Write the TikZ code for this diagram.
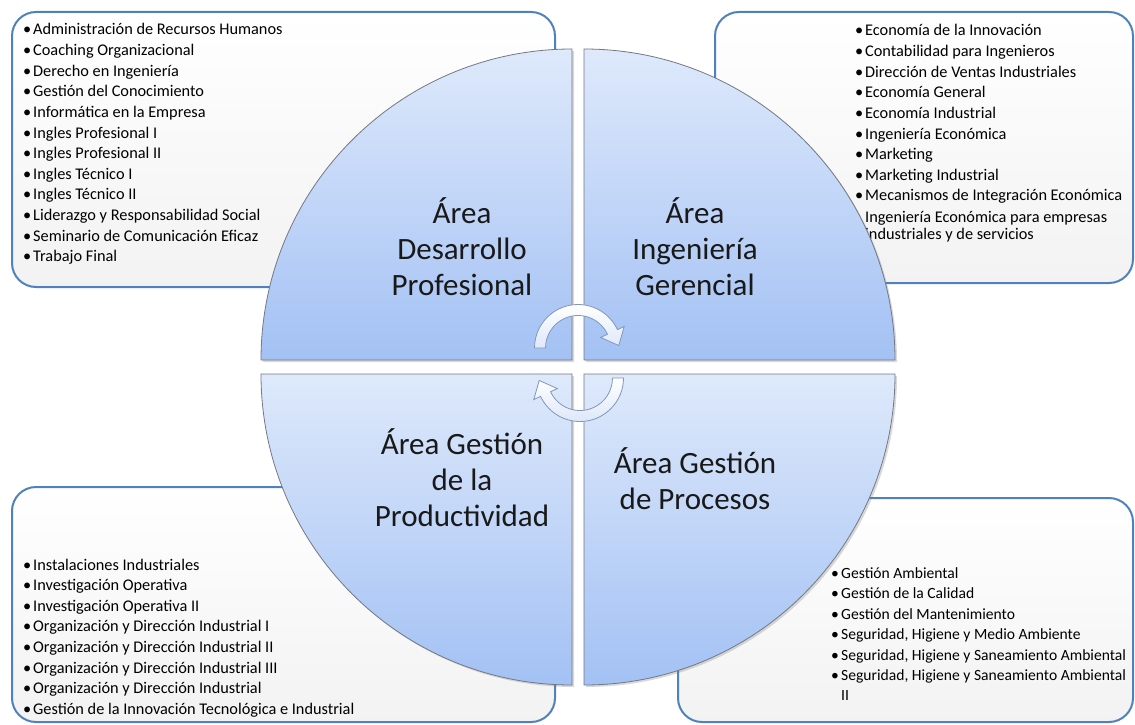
\documentclass[tikz,border=0pt]{standalone}
\usepackage{fontspec}
\setmainfont{Carlito}
\usetikzlibrary{shadows,calc}
\definecolor{boxline}{RGB}{79,129,189}
\definecolor{qtop}{RGB}{222,233,251}
\definecolor{qbot}{RGB}{163,193,244}
\definecolor{qline}{RGB}{115,120,130}
\definecolor{arrfill}{RGB}{222,232,250}
\definecolor{arrline}{RGB}{130,150,185}
\begin{document}
\begin{tikzpicture}[x=1pt,y=-1pt,
  listbox/.style={draw=boxline, line width=2pt, rounded corners=24pt, top color=white, bottom color=black!5},
  quad/.style={draw=qline, line width=0.8pt, top color=qtop, bottom color=qbot,
    drop shadow={shadow xshift=2pt, shadow yshift=-2pt, opacity=0.3}},
  item/.style={anchor=base west, inner sep=0pt, font=\fontsize{16.3}{19}\selectfont},
  itemsm/.style={item, font=\fontsize{15.6}{19}\selectfont},
  area/.style={align=center, inner sep=0pt, font=\fontsize{31}{36}\selectfont, text=black!90},
  cyc/.style={draw=arrline, line width=0.8pt, top color=white, bottom color=arrfill}
]
\useasboundingbox (0,0) rectangle (1135,725);
\clip (0,0) rectangle (1135,725);
% list boxes
\draw[listbox] (12,12) rectangle (555,287);
\draw[listbox] (715,12) rectangle (1133,283);
\draw[listbox] (12,487) rectangle (555,722);
\draw[listbox] (678,498) rectangle (1133,722);
% top-left list
\foreach \t [count=\i from 0] in {Administración de Recursos Humanos, Coaching Organizacional, Derecho en Ingeniería, Gestión del Conocimiento, Informática en la Empresa, Ingles Profesional I, Ingles Profesional II, Ingles Técnico I, Ingles Técnico II, Liderazgo y Responsabilidad Social, Seminario de Comunicación Eficaz, Trabajo Final}
  \node[item, name=tl\i] at (23,{35+20.6*\i}) {\makebox[10pt][l]{•}\t};
% top-right list
\foreach \t [count=\i from 0] in {Economía de la Innovación, Contabilidad para Ingenieros, Dirección de Ventas Industriales, Economía General, Economía Industrial, Ingeniería Económica, Marketing, Marketing Industrial, Mecanismos de Integración Económica}
  \node[item, name=tr\i] at (855,{36+20.6*\i}) {\makebox[10pt][l]{•}\t};
\node[item, name=tr9] at (865,222) {Ingeniería Económica para empresas};
\node[item, name=tr10] at (865,239) {industriales y de servicios};
% bottom-left list
\foreach \t [count=\i from 0] in {Instalaciones Industriales, Investigación Operativa, Investigación Operativa II, Organización y Dirección Industrial I, Organización y Dirección Industrial II, Organización y Dirección Industrial III, Organización y Dirección Industrial, Gestión de la Innovación Tecnológica e Industrial}
  \node[item, name=bl\i] at (23,{570+20.6*\i}) {\makebox[10pt][l]{•}\t};
% bottom-right list
\foreach \t [count=\i from 0] in {Gestión Ambiental, Gestión de la Calidad, Gestión del Mantenimiento, {Seguridad, Higiene y Medio Ambiente}, {Seguridad, Higiene y Saneamiento Ambiental}, {Seguridad, Higiene y Saneamiento Ambiental}}
  \node[itemsm, name=br\i] at (831,{578+20.5*\i}) {\makebox[10pt][l]{•}\t};
\node[itemsm, name=br6] at (841,700) {II};
% quadrants
\path[quad] (572,360) -- (261,360) arc[start angle=180, end angle=270, radius=311] -- cycle;
\path[quad] (584,360) -- (584,49) arc[start angle=270, end angle=360, radius=311] -- cycle;
\path[quad] (584,374) -- (895,374) arc[start angle=0, end angle=90, radius=311] -- cycle;
\path[quad] (572,374) -- (572,685) arc[start angle=90, end angle=180, radius=311] -- cycle;
% labels
\node[area] (dp) at (462,247) {Área\\Desarrollo\\Profesional};
\node[area] (ig) at (695,247) {Área\\Ingeniería\\Gerencial};
\node[area] (gp) at (462,478) {Área Gestión\\de la\\Productividad};
\node[area] (gr) at (695,479) {Área Gestión\\de Procesos};
% cycle arrows
\coordinate (ctop) at (578,348);
\coordinate (cbot) at (580,378);
\path[cyc] ($(ctop)+(180:43.5)$) arc[start angle=180, end angle=335, radius=43.5]
  -- ($(ctop)+(335:51)$) -- ($(ctop)+(335:38)+(65:15)$) -- ($(ctop)+(335:25)$)
  -- ($(ctop)+(335:32.5)$) arc[start angle=335, end angle=180, radius=32.5] -- cycle;
\path[cyc] ($(cbot)+(0:43.5)$) arc[start angle=0, end angle=155, radius=43.5]
  -- ($(cbot)+(155:51)$) -- ($(cbot)+(155:38)+(245:15)$) -- ($(cbot)+(155:25)$)
  -- ($(cbot)+(155:32.5)$) arc[start angle=155, end angle=0, radius=32.5] -- cycle;
\end{tikzpicture}
\end{document}
